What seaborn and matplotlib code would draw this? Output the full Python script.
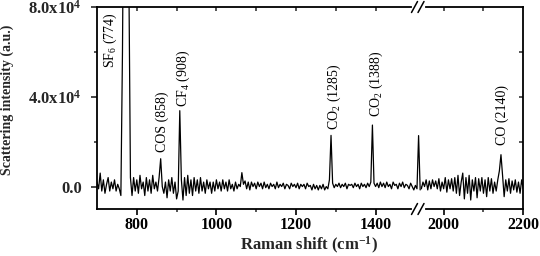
import numpy as np
import pandas as pd
import matplotlib
matplotlib.use("Agg")
import matplotlib.pyplot as plt
import seaborn as sns
from matplotlib.lines import Line2D

# ---------------- data (intensity in units of 10^3 a.u.) ----------------
seg1_start, seg1_step = 700, 4          # 700 ... 1512 cm-1
seg1_k = [
    2, -1, 6, -2, 3, -3, 1, 4, -2, 2,
    -1, 3, -2, 1, -1, -4, 60, 160, 320, 300,
    95, 4, -4, 4, -2, 3, -3, 5, -1, 2,
    -4, 4, -2, 3, -3, 5, -1, 2, -2, 4,
    12.4, 0, -3, 2, -5, 3, -2, 4, -3, 2,
    -5.5, -2, 33.8, 3, -6, 4, -4, 5, -3, 3,
    -4, 4, -2, 3, -3, 4, -2, 2, -3, 3,
    -1, 2, -3, 2, -2, 3, -1, 2, -2, 3,
    -1, 2, -2, 3, -1, 1, -2, 2, -1, 1,
    0, 6.2, 1, 2.5, -1, 2, -1.5, 2, 0, 1.5,
    -1, 2, 0, 1.5, -1, 2, -0.5, 1, -1, 1.5,
    0, 1, -1, 2, -0.5, 1, 0, 1.5, -1, 1,
    0.5, -1, 1.5, 0, 1, -0.5, 1.5, -1, 1, 0,
    1, -1, 1.5, 0, 0.5, -1.5, 1, -1, 0.5, -1.5,
    0.5, -1, 1, -1.5, 0, -1, 3, 22.8, 1.5, -0.5,
    1, 0, 1.5, -0.5, 1, 0, 1.5, -1, 1, 0.5,
    1, -0.5, 1.5, 0, 1, -1, 1.5, 0, 1, -0.5,
    1.5, 0, 2, 27.4, 1.5, 0, 1.5, -0.5, 2, 0,
    1.5, -0.5, 2, 0, 1, -1, 2, 0.5, 1, -1,
    1.5, 0, 2, -0.5, 1, 0.5, -1, 1.5, 0, -1.5,
    0.5, -1, 22.7, -1.5,
]
seg2_start, seg2_step = 1940, 4         # 1940 ... 2200 cm-1
seg2_k = [
    1, -1, 2, 0, 3, -1.5, 2.5, -1, 3, 0,
    2.5, -1, 3.5, -2, 2, -1, 4, -2.5, 3, -1,
    3.5, -2, 4, -3, 5, -4, 2, 6, -5.5, 4,
    -3, 5, -6, 3, -2, 4, -5, 3.5, -2, 4,
    -3, 3, -4.5, 4, -2, 3.5, -3, 2, -2, 3,
    7, 14.2, 5, -4.5, 3, -2, 3.5, -3, 2.5, -1.5,
    3, -2.5, 2, -3, 3, -1,
]

peak_labels = ["SF$\\mathrm{_6}$ (774)", "COS (858)", "CF$\\mathrm{_4}$ (908)",
               "CO$\\mathrm{_2}$ (1285)", "CO$\\mathrm{_2}$ (1388)", "CO (2140)"]
label_x = [733, 863, 916, 1297, 1401, 2147]
label_y_k = [53, 15.6, 35.6, 25.3, 31.0, 18.7]

ytick_vals = [0, 40000, 80000]
ytick_labels = ["0.0", "4.0x10$\\mathbf{^4}$", "8.0x10$\\mathbf{^4}$"]

x1 = seg1_start + seg1_step * np.arange(len(seg1_k))
x2 = seg2_start + seg2_step * np.arange(len(seg2_k))
df1 = pd.DataFrame({"shift": x1, "intensity": np.array(seg1_k) * 1e3})
df2 = pd.DataFrame({"shift": x2, "intensity": np.array(seg2_k) * 1e3})

# ---------------- style ----------------
sns.set_style("ticks")
plt.rcParams["font.family"] = ["Liberation Serif", "DejaVu Serif"]
plt.rcParams["mathtext.fontset"] = "custom"
plt.rcParams["mathtext.rm"] = "Liberation Serif"
plt.rcParams["mathtext.it"] = "Liberation Serif:italic"
plt.rcParams["mathtext.bf"] = "Liberation Serif:bold"

W, H = 540, 256
fig = plt.figure(figsize=(W / 100, H / 100), dpi=100)

xl1 = (700, 1513)
xl2 = (1942, 2200)
scale = 0.398  # px per cm-1
left_px, top_px, bot_px = 97, 7, 209
w1 = (xl1[1] - xl1[0]) * scale
w2 = (xl2[1] - xl2[0]) * scale
ax1 = fig.add_axes([left_px / W, 1 - bot_px / H, w1 / W, (bot_px - top_px) / H])
ax2 = fig.add_axes([(left_px + w1) / W, 1 - bot_px / H, w2 / W, (bot_px - top_px) / H])

for ax, df, xl in ((ax1, df1, xl1), (ax2, df2, xl2)):
    sns.lineplot(data=df, x="shift", y="intensity", ax=ax, color="black",
                 linewidth=0.9, estimator=None, sort=False)
    ax.set_xlim(*xl)
    ax.set_ylim(-10000, 80000)
    ax.set_xlabel("")
    ax.set_ylabel("")
    for s in ax.spines.values():
        s.set_linewidth(1.3)
        s.set_color("black")

ax1.spines["right"].set_visible(False)
ax2.spines["left"].set_visible(False)
ax1.spines["top"].set_bounds(700, 1490)
ax1.spines["bottom"].set_bounds(700, 1490)
ax2.spines["top"].set_bounds(1956, 2200)
ax2.spines["bottom"].set_bounds(1956, 2200)

# ticks
ax1.set_xticks([800, 1000, 1200, 1400])
ax1.set_xticks([900, 1100, 1300], minor=True)
ax2.set_xticks([2000, 2200])
ax2.set_xticks([2100], minor=True)
ax1.set_yticks(ytick_vals)
ax1.set_yticklabels(ytick_labels)
ax1.set_yticks([20000, 60000], minor=True)
ax2.set_yticks([])

for ax in (ax1, ax2):
    ax.tick_params(axis="x", which="major", direction="out", length=4, width=1.2,
                   pad=1.5, labelsize=11.5, colors="black")
    ax.tick_params(axis="x", which="minor", direction="out", length=2.5, width=1.1)
    for lab in ax.get_xticklabels():
        lab.set_fontweight("bold")
ax1.tick_params(axis="y", which="major", direction="out", length=4, width=1.2,
                pad=7, labelsize=12)
ax1.tick_params(axis="y", which="minor", direction="out", length=2.5, width=1.1)
for lab in ax1.get_yticklabels():
    lab.set_fontweight("bold")

# top (inward) ticks and right (inward) ticks
for ax, ticks in ((ax1, [800, 900, 1000, 1100, 1200, 1300, 1400]), (ax2, [2000, 2100])):
    sec = ax.secondary_xaxis("top")
    sec.set_xticks(ticks)
    sec.set_xticklabels([])
    sec.tick_params(direction="in", length=3, width=1.1)
    sec.spines["top"].set_visible(False)
secy = ax2.secondary_yaxis("right")
secy.set_yticks([20000, 40000, 60000])
secy.set_yticklabels([])
secy.tick_params(direction="in", length=3, width=1.1)
secy.spines["right"].set_visible(False)

# peak labels
for lab, lx, ly in zip(peak_labels, label_x, label_y_k):
    ax = ax1 if lx < 1600 else ax2
    ax.text(lx, ly * 1e3, lab, rotation=90, ha="center", va="bottom",
            fontsize=10, color="black")

# axis labels
ax1.set_ylabel("Scattering intensity (a.u.)", fontsize=10, fontweight="bold")
ax1.yaxis.set_label_coords((14.5 - left_px) / w1, 0.54)
fig.text(309 / W, 1 - 245.5 / H, "Raman shift (cm$\\mathbf{^{-1}}$)", ha="center",
         va="center", fontsize=12, fontweight="bold")

# axis-break marks
def slash(x0, y0, x1_, y1_):
    fig.add_artist(Line2D([x0 / W, x1_ / W], [1 - y0 / H, 1 - y1_ / H],
                          transform=fig.transFigure, color="black", lw=1.1))

for yc in (bot_px, top_px):
    slash(411.5, yc + 5.5, 417.5, yc - 5.5)
    slash(418, yc + 5.5, 424, yc - 5.5)

fig.savefig("out.png", dpi=100)
